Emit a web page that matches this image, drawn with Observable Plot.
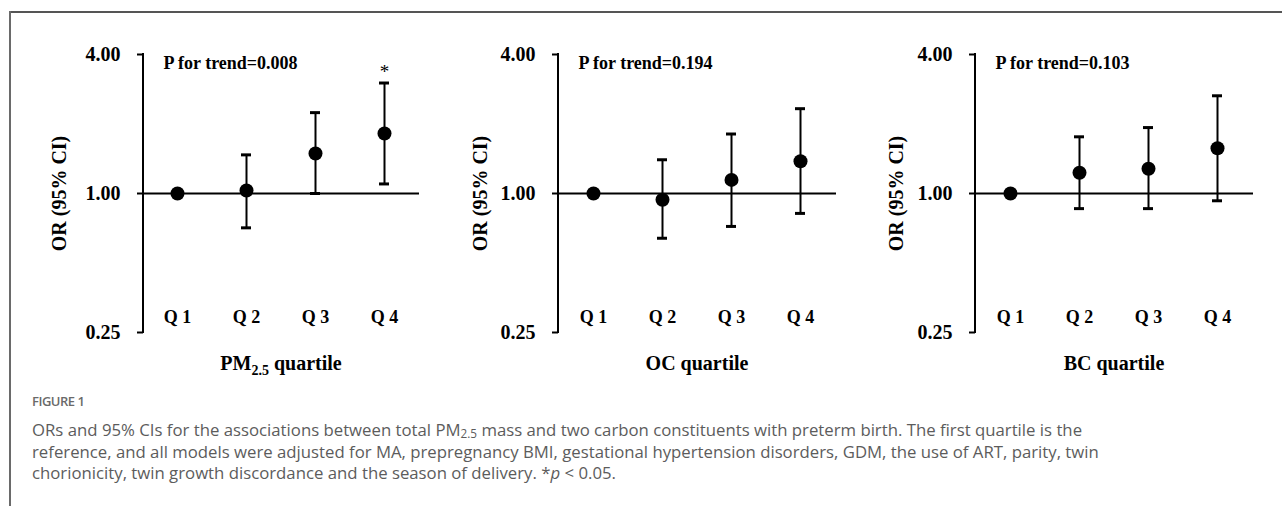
<!DOCTYPE html>
<html><head><meta charset="utf-8">
<script src="https://cdn.jsdelivr.net/npm/d3@7"></script>
<script src="https://cdn.jsdelivr.net/npm/@observablehq/plot@0.6"></script>
<style>
body{margin:0;background:#fff;}
#wrap{position:relative;width:1282px;height:506px;overflow:hidden;background:#fff;}
.btop{position:absolute;left:9px;top:11px;right:0;height:2px;background:#555;}
.bleft{position:absolute;left:9px;top:11px;bottom:0;width:2px;background:#6a6a6a;}
.panel{position:absolute;top:0;}
#caption{position:absolute;left:32px;top:392px;font-family:"Open Sans",sans-serif;color:#5c5c5c;white-space:nowrap;}
#caption .fig{font-size:13px;font-weight:600;color:#6a6a6a;letter-spacing:-0.5px;margin-bottom:9px;}
#caption .ln{line-height:21.7px;}
#caption sub{font-size:0.7em;vertical-align:-0.15em;line-height:0;}
</style>
</head><body>
<div id="wrap">
  <div class="btop"></div><div class="bleft"></div>
  <div id="caption">
    <div class="fig">FIGURE 1</div>
    <div class="ln"><span id="l1">ORs and 95% CIs for the associations between total PM<sub>2.5</sub> mass and two carbon constituents with preterm birth. The first quartile is the</span></div>
    <div class="ln">reference, and all models were adjusted for MA, prepregnancy BMI, gestational hypertension disorders, GDM, the use of ART, parity, twin</div>
    <div class="ln">chorionicity, twin growth discordance and the season of delivery. *<i>p</i> &lt; 0.05.</div>
  </div>
</div>
<script>
// ---- data ----
const quartiles = ["Q 1", "Q 2", "Q 3", "Q 4"];
const yTicks = [0.25, 1, 4];

const pm25OR = [1.00, 1.03, 1.49, 1.82];
const pm25Lo = [null, 0.71, 1.00, 1.10];
const pm25Hi = [null, 1.47, 2.24, 3.01];
const pm25Sig = [false, false, false, true];

const ocOR = [1.00, 0.94, 1.145, 1.38];
const ocLo = [null, 0.64, 0.72, 0.82];
const ocHi = [null, 1.40, 1.81, 2.33];
const ocSig = [false, false, false, false];

const bcOR = [1.00, 1.23, 1.28, 1.57];
const bcLo = [null, 0.86, 0.86, 0.93];
const bcHi = [null, 1.76, 1.93, 2.65];
const bcSig = [false, false, false, false];

const pTrend = ["0.008", "0.194", "0.103"];
const exposureNames = ["PM", "OC", "BC"];
const exposureSubs = ["2.5", "", ""];

// ---- layout (not data) ----
const layout = [
  {left: 0,   width: 430, ml: 143, mr: 11, labelDx: 84},
  {left: 430, width: 430, ml: 128, mr: 24, labelDx: 78},
  {left: 860, width: 422, ml: 115, mr: 29, labelDx: 79}
];

const series = [
  {or: pm25OR, lo: pm25Lo, hi: pm25Hi, sig: pm25Sig},
  {or: ocOR, lo: ocLo, hi: ocHi, sig: ocSig},
  {or: bcOR, lo: bcLo, hi: bcHi, sig: bcSig}
];

const font = '"Liberation Serif", "Times New Roman", serif';
const wrap = document.getElementById("wrap");

series.forEach((s, i) => {
  const L = layout[i];
  const rows = quartiles.map((q, j) => ({q, or: s.or[j], lo: s.lo[j], hi: s.hi[j], sig: s.sig[j]}));
  const ci = rows.filter(d => d.lo != null);
  const plot = Plot.plot({
    width: L.width, height: 400,
    marginLeft: L.ml, marginRight: L.mr, marginTop: 54, marginBottom: 68,
    style: {fontFamily: font, fontWeight: "bold", background: "transparent", overflow: "visible", color: "#000"},
    x: {type: "band", domain: quartiles, paddingInner: 0.85, paddingOuter: 0.425, axis: null},
    y: {type: "log", base: 2, domain: [0.25, 4], axis: null},
    marks: [
      Plot.axisY({ticks: yTicks, tickFormat: d => d.toFixed(2), tickSize: 6, tickPadding: 17, strokeWidth: 2, fontSize: 20, label: null}),
      Plot.ruleY([1], {strokeWidth: 2}),
      Plot.ruleX(ci, {x: "q", y1: "lo", y2: "hi", strokeWidth: 2}),
      Plot.tickY(ci, {x: "q", y: "hi", strokeWidth: 3}),
      Plot.tickY(ci, {x: "q", y: "lo", strokeWidth: 3}),
      Plot.dot(rows, {x: "q", y: "or", r: 7, fill: "#000", stroke: null}),
      Plot.text(rows.filter(d => d.sig), {x: "q", y: "hi", text: () => "*", dy: -11, fontWeight: "normal", fontSize: 19}),
      Plot.text(quartiles, {x: d => d, frameAnchor: "bottom", lineAnchor: "middle", dy: -15, fontSize: 18}),
      Plot.text([`P for trend=${pTrend[i]}`], {frameAnchor: "top-left", lineAnchor: "middle", dx: 20, dy: 9, textAnchor: "start", fontSize: 18}),
      Plot.text(["OR (95% CI)"], {frameAnchor: "left", textAnchor: "middle", lineAnchor: "middle", dx: -L.labelDx, rotate: -90, fontSize: 20})
    ]
  });
  const xr = plot.scale("x").range;
  const ys = plot.scale("y");
  const y0 = ys.apply(yTicks[0]), y1 = ys.apply(yTicks[yTicks.length - 1]);
  // y axis line along the frame's left edge
  d3.select(plot).append("line")
    .attr("x1", xr[0]).attr("x2", xr[0]).attr("y1", y1 - 1).attr("y2", y0 + 1)
    .attr("stroke", "#000").attr("stroke-width", 2);
  const t = d3.select(plot).append("text")
    .attr("x", (xr[0] + xr[1]) / 2).attr("y", 370)
    .attr("text-anchor", "middle").attr("font-size", 20).attr("font-weight", "bold")
    .attr("font-family", font).attr("fill", "#000");
  t.append("tspan").text(exposureNames[i]);
  if (exposureSubs[i]) {
    t.append("tspan").attr("font-size", 14).attr("dy", 5).text(exposureSubs[i]);
    t.append("tspan").attr("dy", -5).text(" quartile");
  } else {
    t.append("tspan").text(" quartile");
  }
  const div = document.createElement("div");
  div.className = "panel";
  div.style.left = L.left + "px";
  div.appendChild(plot);
  wrap.appendChild(div);
});

// fit caption width to the reference line length (first line ~1050px)
const l1 = document.getElementById("l1");
const cap = document.getElementById("caption");
cap.style.fontSize = "16px";
const w = l1.getBoundingClientRect().width;
cap.style.fontSize = (16 * 1050 / w).toFixed(2) + "px";
</script>
</body></html>
